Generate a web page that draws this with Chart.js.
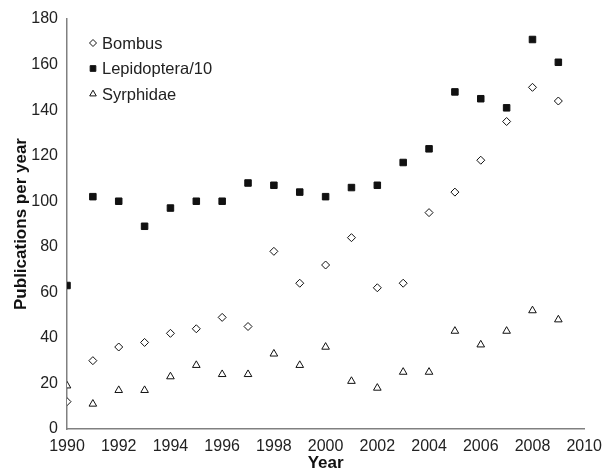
<!DOCTYPE html>
<html>
<head>
<meta charset="utf-8">
<script src="https://cdn.jsdelivr.net/npm/chart.js@4"></script>
<style>
    html, body { margin: 0; padding: 0; background: #fff; }
    #wrap { width: 610px; height: 470px; }
</style>
</head>
<body>
<div id="wrap"><canvas id="pubChart" width="610" height="470"></canvas></div>
<script>
// data
const years = [1990, 1991, 1992, 1993, 1994, 1995, 1996, 1997, 1998, 1999,
               2000, 2001, 2002, 2003, 2004, 2005, 2006, 2007, 2008, 2009];
const bombus = [12, 30, 36, 38, 42, 44, 49, 45, 78, 64, 72, 84, 62, 64, 95, 104, 118, 135, 150, 144];
const lepidoptera10 = [63, 102, 100, 89, 97, 100, 100, 108, 107, 104, 102, 106, 107, 117, 123, 148, 145, 141, 171, 161];
const syrphidae = [19, 11, 17, 17, 23, 28, 24, 24, 33, 28, 36, 21, 18, 25, 25, 43, 37, 43, 52, 48];
const xTicks = [1990, 1992, 1994, 1996, 1998, 2000, 2002, 2004, 2006, 2008, 2010];
const yTicks = [0, 20, 40, 60, 80, 100, 120, 140, 160, 180];

const FONT = '"Liberation Sans", Arial, Helvetica, sans-serif';

function toPoints(vals) {
    return years.map((y, i) => ({ x: y, y: vals[i] }));
}

// legend drawn inside the plot, top left
const innerLegend = {
    id: 'innerLegend',
    afterDraw(chart) {
        const ctx = chart.ctx;
        const x0 = chart.chartArea.left + 26;
        let y = chart.chartArea.top + 24;
        ctx.save();
        chart.data.datasets.forEach(ds => {
            ctx.fillStyle = ds.backgroundColor;
            ctx.strokeStyle = ds.borderColor;
            ctx.lineWidth = 1;
            Chart.helpers.drawPoint(ctx, {
                pointStyle: ds.pointStyle,
                radius: ds.legendRadius,
                rotation: 0,
                borderWidth: 1
            }, x0, y);
            ctx.fillStyle = '#222';
            ctx.font = '16.5px ' + FONT;
            ctx.textBaseline = 'middle';
            ctx.textAlign = 'left';
            ctx.fillText(ds.label, x0 + 9, y + 1);
            y += 25.5;
        });
        ctx.restore();
    }
};

new Chart(document.getElementById('pubChart'), {
    type: 'scatter',
    data: {
        datasets: [
            {
                label: 'Bombus',
                data: toPoints(bombus),
                pointStyle: 'rectRot',
                pointRadius: 4,
                legendRadius: 3.5,
                backgroundColor: '#fff',
                borderColor: '#111',
                borderWidth: 1
            },
            {
                label: 'Lepidoptera/10',
                data: toPoints(lepidoptera10),
                pointStyle: 'rect',
                pointRadius: 4.6,
                legendRadius: 4,
                backgroundColor: '#111',
                borderColor: '#111',
                borderWidth: 1
            },
            {
                label: 'Syrphidae',
                data: toPoints(syrphidae),
                pointStyle: 'triangle',
                pointRadius: 4.4,
                legendRadius: 3.8,
                backgroundColor: '#fff',
                borderColor: '#111',
                borderWidth: 1
            }
        ]
    },
    options: {
        responsive: false,
        animation: false,
        layout: { padding: { top: 19, right: 22, left: 0, bottom: 0 } },
        plugins: {
            legend: { display: false },
            tooltip: { enabled: false }
        },
        scales: {
            x: {
                type: 'linear',
                min: 1990,
                max: 2010,
                afterFit: s => { s.height = 41; },
                afterBuildTicks: s => { s.ticks = xTicks.map(v => ({ value: v })); },
                grid: { display: false, drawTicks: false },
                border: { display: true, color: '#808080', width: 1.5 },
                ticks: {
                    padding: 8,
                    color: '#222',
                    font: { family: FONT, size: 16 },
                    callback: v => String(v)
                },
                title: {
                    display: true,
                    text: 'Year',
                    color: '#111',
                    padding: 0,
                    font: { family: FONT, size: 17, weight: 'bold', lineHeight: 0.8 }
                }
            },
            y: {
                min: 0,
                max: 180,
                afterFit: s => { s.width = 67; },
                afterBuildTicks: s => { s.ticks = yTicks.map(v => ({ value: v })); },
                grid: { display: false, drawTicks: false },
                border: { display: true, color: '#808080', width: 1.5 },
                ticks: {
                    padding: 9,
                    color: '#222',
                    font: { family: FONT, size: 16 }
                },
                title: {
                    display: true,
                    text: 'Publications per year',
                    color: '#111',
                    padding: { top: 13, bottom: 0 },
                    font: { family: FONT, size: 17, weight: 'bold', lineHeight: 1 }
                }
            }
        }
    },
    plugins: [innerLegend]
});
</script>
</body>
</html>
